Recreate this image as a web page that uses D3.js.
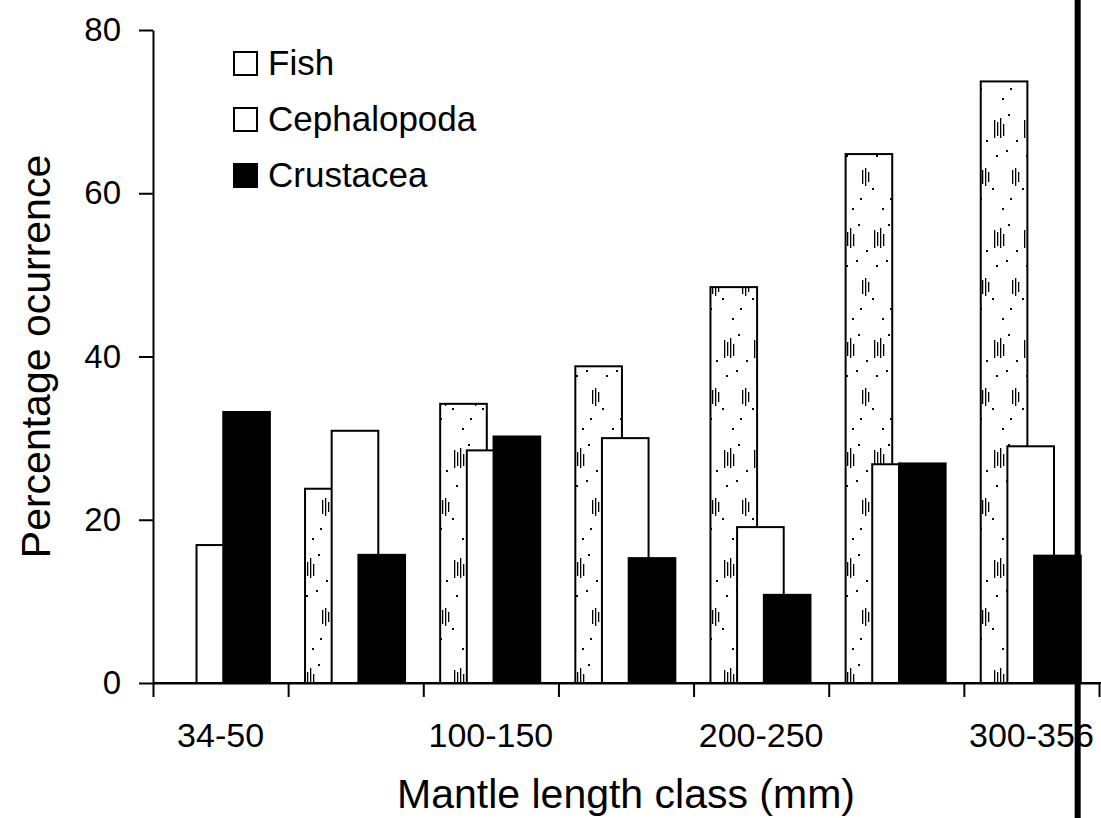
<!DOCTYPE html>
<html>
<head>
<meta charset="utf-8">
<script src="https://cdn.jsdelivr.net/npm/d3@7/dist/d3.min.js"></script>
<style>
  html, body { margin: 0; padding: 0; background: #fff; }
  svg { display: block; font-family: "Liberation Sans", Arial, Helvetica, sans-serif; }
</style>
</head>
<body>
<svg id="chart" width="1101" height="818"></svg>
<script>
// ---- data ----
const categories = ["34-50", "50-100", "100-150", "150-200", "200-250", "250-300", "300-356"];
const shownLabels = ["34-50", "100-150", "200-250", "300-356"];
const fish = [0, 23.8, 34.2, 38.8, 48.5, 64.8, 73.7];
const cephalopoda = [16.9, 30.9, 28.5, 30.0, 19.1, 26.8, 29.0];
const crustacea = [33.2, 15.7, 30.2, 15.3, 10.8, 26.9, 15.6];
const seriesNames = ["Fish", "Cephalopoda", "Crustacea"];
const yTicks = [0, 20, 40, 60, 80];

// ---- layout ----
const W = 1101, H = 818;
const mLeft = 153, mRight = 1099, mTop = 30, mBottom = 683;
const svg = d3.select("#chart");

const x = d3.scaleBand().domain(categories).range([mLeft, mRight]).padding(0);
const xi = d3.scaleLinear().domain([0, categories.length]).range([mLeft, mRight]);
const y = d3.scaleLinear().domain([0, 80]).range([mBottom, mTop]);
const bw = x.bandwidth();

// pattern for Fish bars (sparse stipple / vertical hatching)
const defs = svg.append("defs");
const pat = defs.append("pattern").attr("id", "fishPat")
  .attr("patternUnits", "userSpaceOnUse").attr("width", 30).attr("height", 110);
pat.append("rect").attr("width", 30).attr("height", 110).attr("fill", "#fff");
[[4, 10, 18], [7, 12, 14], [10, 8, 20], [13, 14, 12], [22, 60, 14], [25, 58, 18], [28, 62, 10]].forEach(d => {
  pat.append("rect").attr("x", d[0]).attr("y", d[1]).attr("width", 1.3).attr("height", d[2]).attr("fill", "#000");
});
[[6, 45], [16, 40], [20, 88], [2, 78], [26, 30], [12, 98], [18, 4]].forEach(d => {
  pat.append("rect").attr("x", d[0]).attr("y", d[1]).attr("width", 2).attr("height", 2).attr("fill", "#000");
});

const series = [
  { name: seriesNames[0], values: fish, fill: "url(#fishPat)", off: 0.125 },
  { name: seriesNames[1], values: cephalopoda, fill: "#fff", off: 0.322 },
  { name: seriesNames[2], values: crustacea, fill: "#000", off: 0.52 }
];
const barW = bw * 0.345;

series.forEach(s => {
  svg.append("g").selectAll("rect")
    .data(s.values.map((v, i) => ({ c: categories[i], v })).filter(d => d.v > 0))
    .join("rect")
    .attr("x", d => x(d.c) + bw * s.off)
    .attr("y", d => y(d.v))
    .attr("width", barW)
    .attr("height", d => y(0) - y(d.v))
    .attr("fill", s.fill)
    .attr("stroke", "#000")
    .attr("stroke-width", 2);
});

// ---- axes ----
const yAxis = svg.append("g").attr("transform", `translate(${mLeft},0)`)
  .call(d3.axisLeft(y).tickValues(yTicks).tickSize(14).tickSizeOuter(0).tickPadding(18));
yAxis.selectAll("text").attr("font-size", 33).attr("fill", "#000")
  .attr("font-family", '"Liberation Sans", Arial, sans-serif');

const xAxis = svg.append("g").attr("transform", `translate(0,${mBottom})`)
  .call(d3.axisBottom(xi).tickValues(d3.range(categories.length + 1)).tickSize(14).tickSizeOuter(0).tickFormat(""));
xAxis.append("line").attr("x1", mLeft).attr("x2", W).attr("y1", 0).attr("y2", 0)
  .attr("stroke", "#000").attr("stroke-width", 2);

const xLab = svg.append("g").attr("transform", `translate(0,${mBottom})`)
  .call(d3.axisBottom(x).tickSize(0).tickPadding(64).tickFormat(d => shownLabels.includes(d) ? d : ""));
xLab.select(".domain").remove();
xLab.selectAll("text").attr("font-size", 34).attr("fill", "#000").attr("dy", 0)
  .attr("font-family", '"Liberation Sans", Arial, sans-serif');

svg.selectAll(".domain, .tick line").attr("stroke", "#000").attr("stroke-width", 2);

// axis titles
svg.append("text").attr("x", (mLeft + mRight) / 2).attr("y", 808)
  .attr("text-anchor", "middle").attr("font-size", 41).attr("fill", "#000")
  .text("Mantle length class (mm)");
svg.append("text")
  .attr("transform", `translate(50,${(mTop + mBottom) / 2}) rotate(-90)`)
  .attr("text-anchor", "middle").attr("font-size", 41).attr("fill", "#000")
  .text("Percentage ocurrence");

// ---- legend ----
const legend = svg.append("g").attr("transform", "translate(233,75)");
series.forEach((s, i) => {
  const g = legend.append("g").attr("transform", `translate(0,${i * 56})`);
  g.append("rect").attr("x", 1).attr("y", -23).attr("width", 23).attr("height", 23)
    .attr("fill", s.fill === "#000" ? "#000" : "#fff").attr("stroke", "#000").attr("stroke-width", 2);
  g.append("text").attr("x", 35).attr("y", 0).attr("font-size", 35).attr("fill", "#000").text(s.name);
});

// scanning artefact: thick vertical rule on the right
svg.append("rect")
  .attr("x", x(categories[categories.length - 1]) + bw * 0.82)
  .attr("y", 0).attr("width", 6).attr("height", H).attr("fill", "#000");
</script>
</body>
</html>
